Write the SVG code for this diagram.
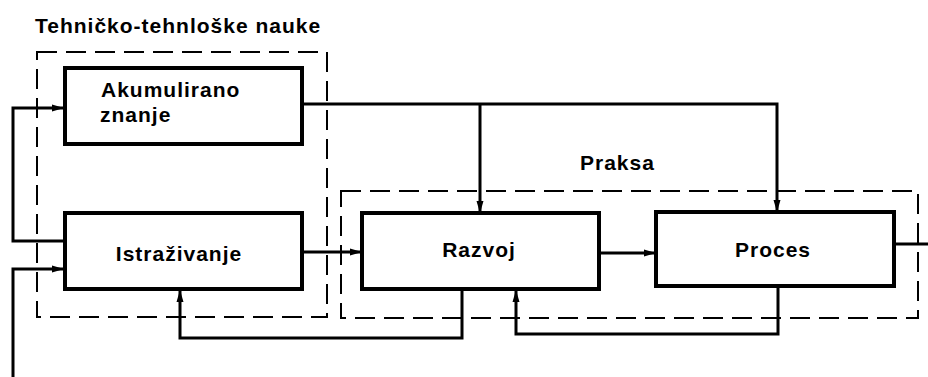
<svg xmlns="http://www.w3.org/2000/svg" width="928" height="377" viewBox="0 0 928 377">
<defs>
<marker id="ah" markerWidth="12" markerHeight="8" refX="11" refY="4" orient="auto" markerUnits="userSpaceOnUse">
<path d="M0,0.5 L12,4 L0,7.5 Z" fill="#000"/>
</marker>
<style>
.box{fill:#fff;stroke:#000;stroke-width:4}
.grp{fill:none;stroke:#000;stroke-width:2;stroke-dasharray:20 9}
.c{fill:none;stroke:#000;stroke-width:3}
.t{font-family:"Liberation Sans",Arial,sans-serif;font-weight:bold;font-size:21px;letter-spacing:1px;fill:#000}
</style>
</defs>
<rect width="928" height="377" fill="#fff"/>
<g id="grp-tehnicke">
<rect class="grp" x="37" y="52" width="290" height="265"/>
<text class="t" x="35" y="33">Tehničko-tehnloške nauke</text>
</g>
<g id="grp-praksa">
<rect class="grp" x="341" y="191" width="577" height="127"/>
<text class="t" x="580" y="170">Praksa</text>
</g>
<g id="connectors">
<path class="c" d="M65,241 H13 V108 H63" marker-end="url(#ah)"/>
<path class="c" d="M13,377 V269 H63" marker-end="url(#ah)"/>
<path class="c" d="M302,252 H361" marker-end="url(#ah)"/>
<path class="c" d="M302,104 H777 V211" marker-end="url(#ah)"/>
<path class="c" d="M480,104 V212" marker-end="url(#ah)"/>
<path class="c" d="M599,253 H655" marker-end="url(#ah)"/>
<path class="c" d="M894,244 H928"/>
<path class="c" d="M462,289 V338 H180 V291" marker-end="url(#ah)"/>
<path class="c" d="M778,286 V334 H516 V291" marker-end="url(#ah)"/>
</g>
<g id="akumulirano">
<rect class="box" x="65" y="68" width="237" height="76"/>
<text class="t" x="101" y="97">Akumulirano</text>
<text class="t" x="100" y="122">znanje</text>
</g>
<g id="istrazivanje">
<rect class="box" x="65" y="213" width="237" height="76"/>
<text class="t" x="179" y="261" text-anchor="middle">Istraživanje</text>
</g>
<g id="razvoj">
<rect class="box" x="362" y="213" width="237" height="76"/>
<text class="t" x="479" y="257" text-anchor="middle">Razvoj</text>
</g>
<g id="proces">
<rect class="box" x="656" y="212" width="238" height="74"/>
<text class="t" x="773" y="257" text-anchor="middle">Proces</text>
</g>
</svg>
